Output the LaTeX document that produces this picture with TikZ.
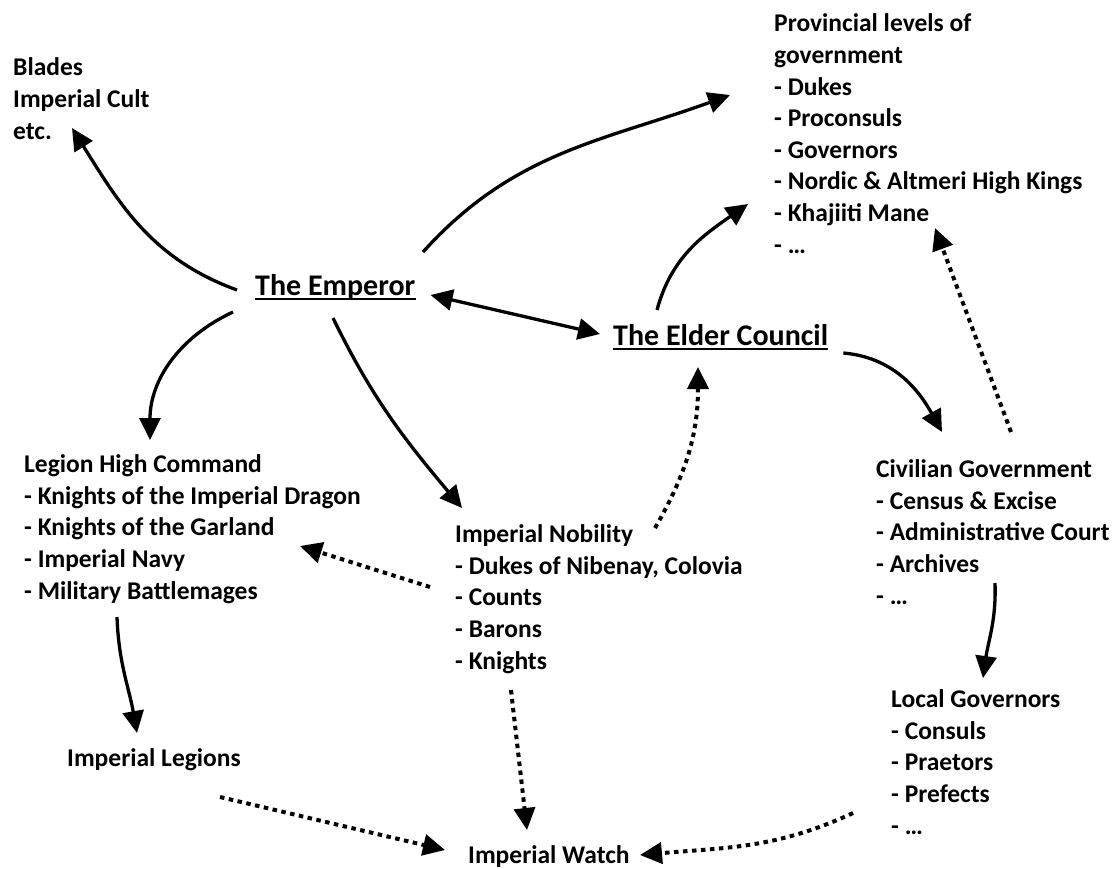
\documentclass[tikz,border=0pt]{standalone}
\usepackage{fontspec}
\setmainfont{Carlito}
\usetikzlibrary{arrows.meta}

\begin{document}
\begin{tikzpicture}[x=1pt,y=-1pt,
    box/.style={anchor=base west,inner sep=0pt,align=left,font=\bfseries\fontsize{25.5}{31.6}\selectfont},
    head/.style={box,font=\bfseries\fontsize{30}{36}\selectfont},
    solidarrow/.style={-{Triangle[length=22pt,width=21pt]},line width=3.3pt},
    dotarrow/.style={solidarrow,line width=4pt,dash pattern=on 4.5pt off 4.5pt}]
    \useasboundingbox (0,0) rectangle (1114,868);

    % The two heads
    \node[head] (emperor) at (255,295) {The Emperor};
    \node[head] (elder) at (613,345) {The Elder Council};
    \draw[line width=1.8pt] ([yshift=-4pt]emperor.base west) -- ([yshift=-4pt]emperor.base east);
    \draw[line width=1.8pt] ([yshift=-4pt]elder.base west) -- ([yshift=-4pt]elder.base east);

    % Branches (placed at the baseline of their last line)
    \node[box] (blades) at (13,139) {Blades\\Imperial Cult\\etc.};
    \node[box] (provinces) at (774,253) {Provincial levels of\\government\\- Dukes\\- Proconsuls\\- Governors\\- Nordic \& Altmeri High Kings\\- Khajiiti Mane\\- \ldots};
    \node[box] (legion) at (24,599) {Legion High Command\\- Knights of the Imperial Dragon\\- Knights of the Garland\\- Imperial Navy\\- Military Battlemages};
    \node[box] (nobility) at (455,669) {Imperial Nobility\\- Dukes of Nibenay, Colovia\\- Counts\\- Barons\\- Knights};
    \node[box] (civilian) at (876,604) {Civilian Government\\- Census \& Excise\\- Administrative Court\\- Archives\\- \ldots};
    \node[box] (local) at (891,834) {Local Governors\\- Consuls\\- Praetors\\- Prefects\\- \ldots};
    \node[box] (legions) at (67,766) {Imperial Legions};
    \node[box] (watch) at (468,863) {Imperial Watch};

    % Solid arrows
    \draw[solidarrow] ([shift={(-18,-5)}]emperor.base west) to[out=160,in=-58] ([shift={(59,-11)}]blades.base west);
    \draw[solidarrow] ([shift={(168,-43)}]emperor.base west) to[out=48,in=200] ([shift={(-44,-158)}]provinces.base west);
    \draw[solidarrow,{Triangle[length=22pt,width=21pt]}-{Triangle[length=22pt,width=21pt]}] ([shift={(15,0)}]emperor.base east) -- ([shift={(-13,-11)}]elder.base west);
    \draw[solidarrow] ([shift={(44,-35)}]elder.base west) to[out=75,in=215] ([shift={(-26,-49)}]provinces.base west);
    \draw[solidarrow] ([shift={(-22,17)}]emperor.base west) to[out=205,in=90] ([shift={(126,-159)}]legion.base west);
    \draw[solidarrow] ([shift={(78,23)}]emperor.base west) to[out=-64,in=130] ([shift={(7,-161)}]nobility.base west);
    \draw[solidarrow] ([shift={(15,8)}]elder.base east) to[out=-5,in=119] ([shift={(66,-172)}]civilian.base west);
    \draw[solidarrow] ([shift={(93,18)}]legion.base west) to[out=-88,in=100] ([shift={(70,-33)}]legions.base west);
    \draw[solidarrow] ([shift={(119,-21)}]civilian.base west) to[out=-88,in=82] ([shift={(92,-156)}]local.base west);

    % Dotted arrows
    \draw[dotarrow] ([shift={(135,-172)}]civilian.base west) -- ([shift={(161,-25)}]provinces.base west);
    \draw[dotarrow] ([shift={(200,-141)}]nobility.base west) to[out=60,in=-90] ([shift={(85,22)}]elder.base west);
    \draw[dotarrow] ([shift={(-25,-82)}]nobility.base west) -- ([shift={(276,-53)}]legion.base west);
    \draw[dotarrow] ([shift={(56,21)}]nobility.base west) -- ([shift={(59,-33)}]watch.base west);
    \draw[dotarrow] ([shift={(153,31)}]legions.base west) -- ([shift={(-23,-13)}]watch.base west);
    \draw[dotarrow] ([shift={(-38,-21)}]local.base west) to[out=205,in=5] ([shift={(172,-8)}]watch.base west);
\end{tikzpicture}
\end{document}
